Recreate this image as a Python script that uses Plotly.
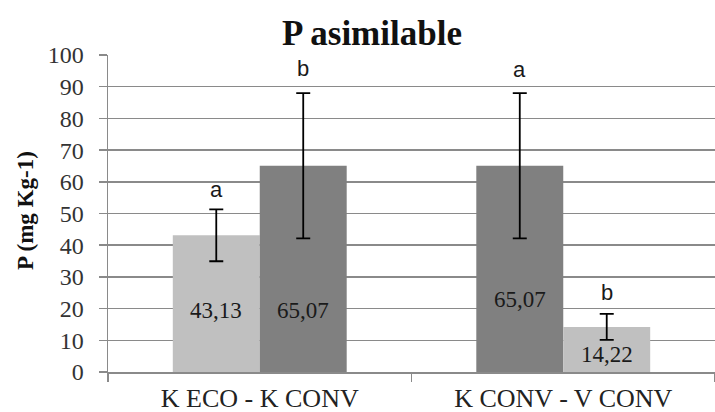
import plotly.graph_objects as go

categories = ["K ECO - K CONV", "K CONV - V CONV"]
left_values = [43.13, 65.07]
right_values = [65.07, 14.22]
left_err = [8.2, 22.9]
right_err = [22.9, 4.1]
left_colors = ["#c0c0c0", "#808080"]
right_colors = ["#808080", "#c0c0c0"]
left_value_text = ["43,13", "65,07"]
right_value_text = ["65,07", "14,22"]
left_value_label_y = [19.5, 23.0]
right_value_label_y = [19.5, 5.4]
left_letters = ["a", "a"]
right_letters = ["b", "b"]
left_letter_y = [57.7, 95.3]
right_letter_y = [95.9, 25.0]
y_ticks = list(range(0, 101, 10))

bargap = 0.427
off = (1 - bargap) / 4

fig = go.Figure()
fig.add_trace(go.Bar(
    x=categories, y=left_values, marker=dict(color=left_colors, line=dict(width=0)),
    error_y=dict(type="data", array=left_err, color="#000000", thickness=1.8, width=7),
    showlegend=False, hoverinfo="skip"))
fig.add_trace(go.Bar(
    x=categories, y=right_values, marker=dict(color=right_colors, line=dict(width=0)),
    error_y=dict(type="data", array=right_err, color="#000000", thickness=1.8, width=7),
    showlegend=False, hoverinfo="skip"))

serif = "Liberation Serif"
sans = "Liberation Sans"

L, R, T, B = 108, 0, 55, 40
W, H = 715, 412
pw, ph = W - L - R, H - T - B

ann = []
for i in range(len(categories)):
    for dx, txt, ty, let, ly in [(-off, left_value_text[i], left_value_label_y[i], left_letters[i], left_letter_y[i]),
                                 (off, right_value_text[i], right_value_label_y[i], right_letters[i], right_letter_y[i])]:
        ann.append(dict(x=i + dx, y=ty, xref="x", yref="y", text=txt, showarrow=False,
                        font=dict(family=serif, size=23, color="#1a1a1a"), xanchor="center", yanchor="middle"))
        ann.append(dict(x=i + dx, y=ly, xref="x", yref="y", text=let, showarrow=False,
                        font=dict(family=sans, size=22, color="#1a1a1a"), xanchor="center", yanchor="middle"))

ann.append(dict(x=(25 - L) / pw, y=(H - 211 - B) / ph, xref="paper", yref="paper",
                text="<b>P (mg Kg-1)</b>", showarrow=False, xanchor="center", yanchor="middle",
                textangle=-90, font=dict(family=serif, size=23, color="#111")))

fig.update_layout(
    width=W, height=H,
    margin=dict(l=L, r=R, t=T, b=B, pad=0),
    paper_bgcolor="white", plot_bgcolor="white",
    barmode="group", bargap=bargap, bargroupgap=0,
    title=dict(text="<b>P asimilable</b>", x=372 / W, xref="container", xanchor="center",
               y=1 - 33 / H, yref="container", yanchor="middle",
               font=dict(family=serif, size=35, color="#111")),
    annotations=ann,
)
fig.update_yaxes(range=[0, 100], tickvals=y_ticks, showgrid=True, gridcolor="#8a8a8a", gridwidth=1.5,
                 showline=True, linecolor="#8a8a8a", linewidth=1.5, ticks="outside", ticklen=8,
                 tickcolor="#8a8a8a", tickwidth=1.5, ticklabelstandoff=10,
                 tickfont=dict(family=serif, size=24, color="#333"), zeroline=False, fixedrange=True,
                 automargin=False)
fig.update_xaxes(showline=True, linecolor="#8a8a8a", linewidth=1.5, ticks="outside", ticklen=8,
                 tickson="boundaries", tickcolor="#8a8a8a", tickwidth=1.5,
                 tickfont=dict(family=serif, size=26, color="#222"), ticklabelstandoff=2,
                 automargin=False, fixedrange=True)

fig.write_html("out.html", config={"displayModeBar": False, "staticPlot": True},
               post_script="document.body.style.margin='0';document.body.style.overflow='hidden';")
